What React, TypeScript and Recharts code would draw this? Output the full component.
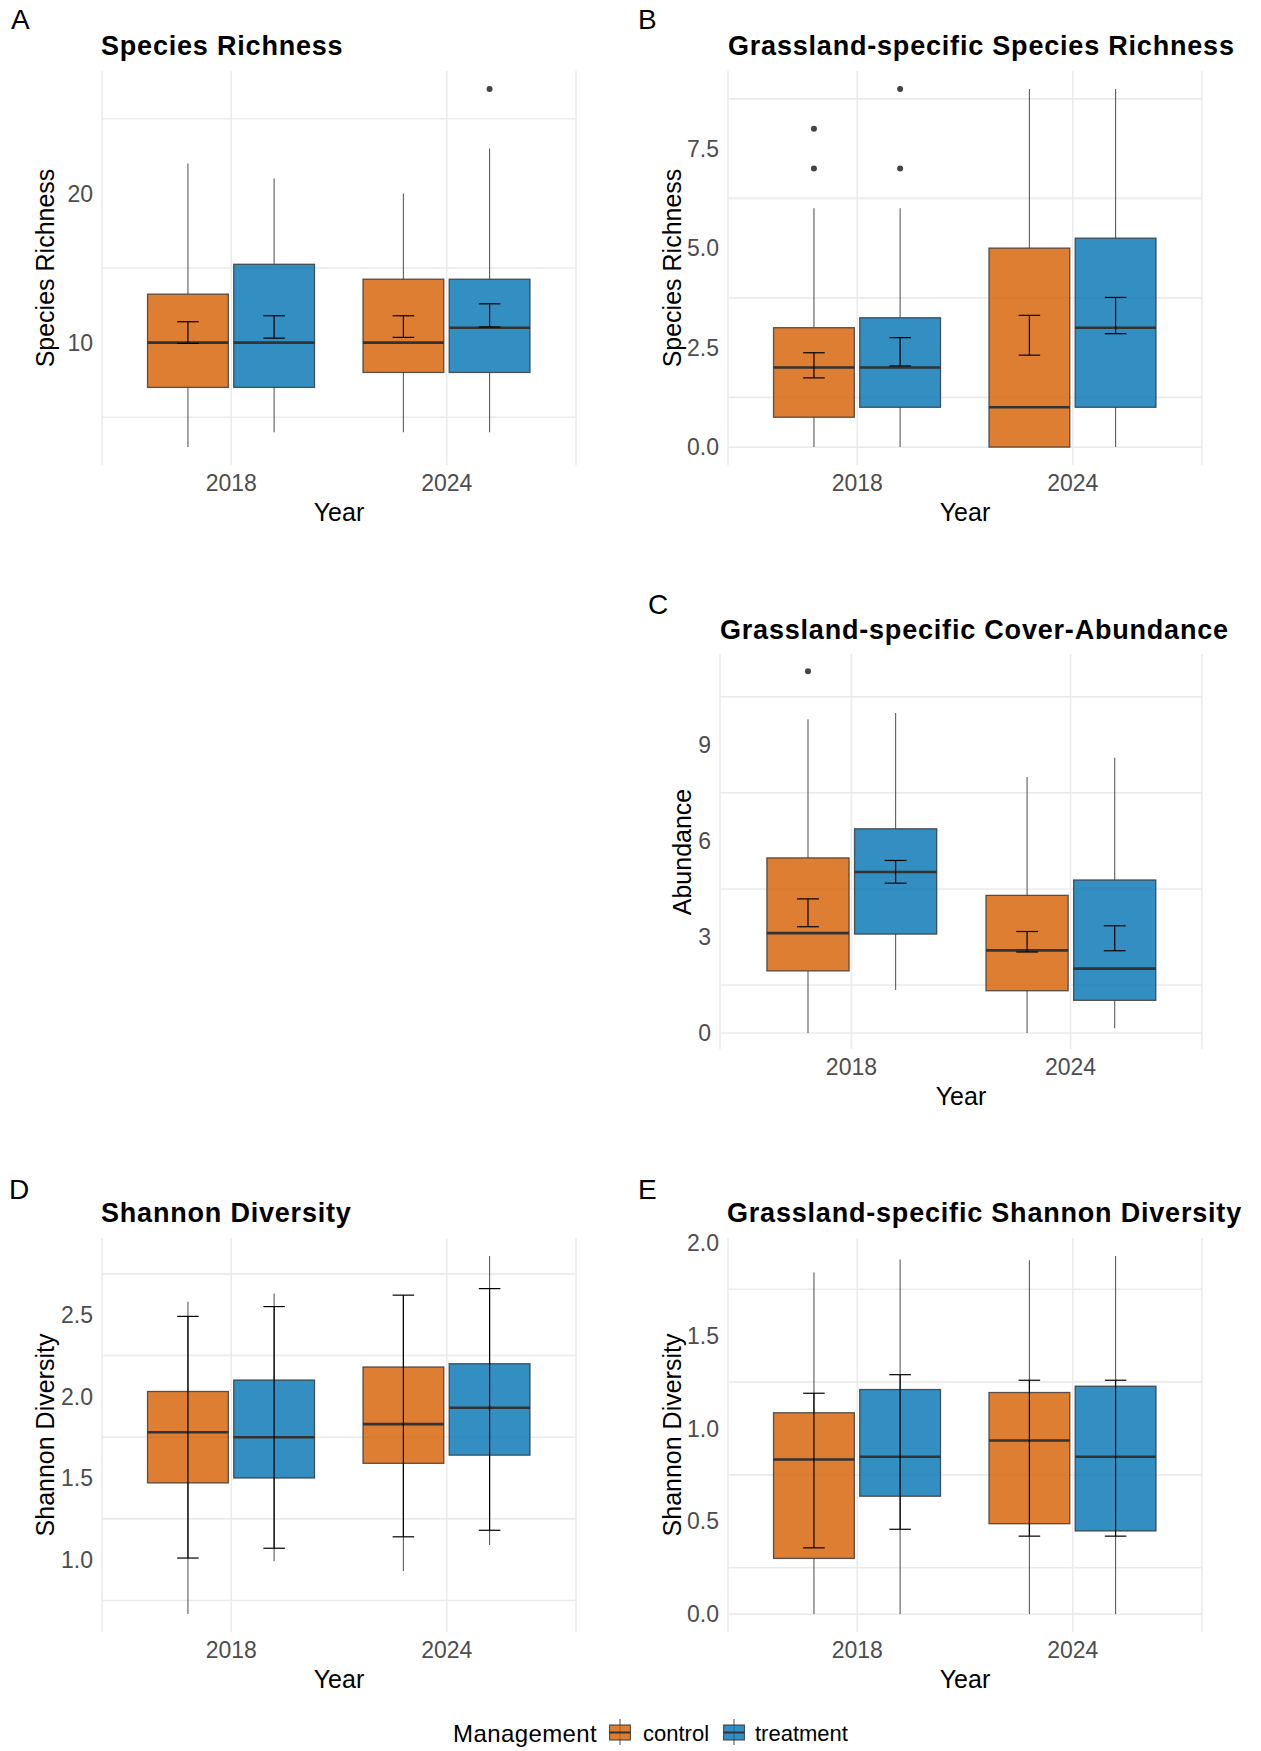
import React from 'react'
import { ComposedChart, Bar, XAxis, YAxis, CartesianGrid } from 'recharts'

const FONT = '"Liberation Sans", Arial, Helvetica, sans-serif'
const CONTROL_FILL = '#D55E00'
const TREATMENT_FILL = '#0072B2'

const YEARS = ['2018', '2024']

// box stats per year: [lower whisker, Q1, median, Q3, upper whisker]
// error bars per year: [low, high]; outliers per year

// A: Species Richness
const RICH_CONTROL_BOX = [[3, 7, 10, 13.25, 22], [4, 8, 10, 14.25, 20]]
const RICH_TREAT_BOX = [[4, 7, 10, 15.25, 21], [4, 8, 11, 14.25, 23]]
const RICH_CONTROL_ERR = [[9.95, 11.4], [10.35, 11.8]]
const RICH_TREAT_ERR = [[10.3, 11.8], [11.05, 12.6]]
const RICH_CONTROL_OUT: number[][] = [[], []]
const RICH_TREAT_OUT: number[][] = [[], [27]]
const RICH_TICKS = [10, 20]
const RICH_MINOR = [5, 15, 25]

// B: Grassland-specific Species Richness
const GRICH_CONTROL_BOX = [[0, 0.75, 2, 3, 6], [0, 0, 1, 5, 9]]
const GRICH_TREAT_BOX = [[0, 1, 2, 3.25, 6], [0, 1, 3, 5.25, 9]]
const GRICH_CONTROL_ERR = [[1.74, 2.37], [2.31, 3.31]]
const GRICH_TREAT_ERR = [[2.04, 2.75], [2.85, 3.76]]
const GRICH_CONTROL_OUT: number[][] = [[7, 8], []]
const GRICH_TREAT_OUT: number[][] = [[7, 9], []]
const GRICH_TICKS = [0, 2.5, 5, 7.5]
const GRICH_MINOR = [1.25, 3.75, 6.25, 8.75]

// C: Grassland-specific Cover-Abundance
const COVER_CONTROL_BOX = [[0, 1.94, 3.12, 5.47, 9.8], [0, 1.32, 2.58, 4.3, 8.0]]
const COVER_TREAT_BOX = [[1.34, 3.09, 5.03, 6.38, 10.0], [0.15, 1.02, 2.01, 4.78, 8.6]]
const COVER_CONTROL_ERR = [[3.32, 4.19], [2.53, 3.17]]
const COVER_TREAT_ERR = [[4.68, 5.39], [2.57, 3.35]]
const COVER_CONTROL_OUT: number[][] = [[11.3], []]
const COVER_TREAT_OUT: number[][] = [[], []]
const COVER_TICKS = [0, 3, 6, 9]
const COVER_MINOR = [1.5, 4.5, 7.5, 10.5]

// D: Shannon Diversity
const SHAN_CONTROL_BOX = [[0.667, 1.47, 1.78, 2.03, 2.58], [0.93, 1.59, 1.83, 2.18, 2.62]]
const SHAN_TREAT_BOX = [[0.99, 1.5, 1.75, 2.1, 2.63], [1.09, 1.64, 1.93, 2.2, 2.86]]
const SHAN_CONTROL_ERR = [[1.01, 2.49], [1.14, 2.62]]
const SHAN_TREAT_ERR = [[1.07, 2.55], [1.18, 2.66]]
const SHAN_CONTROL_OUT: number[][] = [[], []]
const SHAN_TREAT_OUT: number[][] = [[], []]
const SHAN_TICKS = [1.0, 1.5, 2.0, 2.5]
const SHAN_MINOR = [0.75, 1.25, 1.75, 2.25, 2.75]

// E: Grassland-specific Shannon Diversity
const GSHAN_CONTROL_BOX = [[0, 0.3, 0.833, 1.085, 1.84], [0, 0.487, 0.935, 1.194, 1.907]]
const GSHAN_TREAT_BOX = [[0, 0.635, 0.848, 1.21, 1.91], [0, 0.448, 0.848, 1.228, 1.93]]
const GSHAN_CONTROL_ERR = [[0.357, 1.19], [0.42, 1.26]]
const GSHAN_TREAT_ERR = [[0.457, 1.29], [0.42, 1.26]]
const GSHAN_CONTROL_OUT: number[][] = [[], []]
const GSHAN_TREAT_OUT: number[][] = [[], []]
const GSHAN_TICKS = [0, 0.5, 1.0, 1.5, 2.0]
const GSHAN_MINOR = [0.25, 0.75, 1.25, 1.75]

const LEGEND_TITLE = 'Management'
const GROUPS = ['control', 'treatment']

interface Stats {
  box: number[]
  err: number[]
  out: number[]
}

interface Row {
  year: string
  control: Stats
  treatment: Stats
}

function buildRows(cb: number[][], ce: number[][], co: number[][], tb: number[][], te: number[][], to: number[][]): Row[] {
  return YEARS.map((year, i) => ({
    year,
    control: { box: cb[i], err: ce[i], out: co[i] },
    treatment: { box: tb[i], err: te[i], out: to[i] },
  }))
}

function span(s: Stats): [number, number] {
  const vals = [...s.box, ...s.err, ...s.out]
  return [Math.min(...vals), Math.max(...vals)]
}

// the bar spans the whole glyph, so its rect gives the value -> pixel mapping
const boxShape = (group: 'control' | 'treatment', fill: string, capHalf: number) => (props: any) => {
  const { x, y, width, height, payload } = props
  const s: Stats = payload[group]
  const [lo, hi] = span(s)
  const py = (v: number) => y + ((hi - v) / (hi - lo)) * height
  const cx = x + width / 2
  const [wLo, q1, med, q3, wHi] = s.box
  const line = '#333333'
  return (
    <g>
      <line x1={cx} x2={cx} y1={py(q3)} y2={py(wHi)} stroke={line} strokeOpacity={0.8} strokeWidth={1.1} />
      <line x1={cx} x2={cx} y1={py(q1)} y2={py(wLo)} stroke={line} strokeOpacity={0.8} strokeWidth={1.1} />
      <rect x={x} y={py(q3)} width={width} height={py(q1) - py(q3)} fill={fill} fillOpacity={0.8} stroke={line} strokeOpacity={0.8} strokeWidth={1.3} />
      <line x1={x} x2={x + width} y1={py(med)} y2={py(med)} stroke={line} strokeWidth={2.6} />
      {s.out.map((o, i) => (
        <circle key={i} cx={cx} cy={py(o)} r={3} fill="#444444" />
      ))}
      <line x1={cx} x2={cx} y1={py(s.err[0])} y2={py(s.err[1])} stroke="#000" strokeWidth={1.2} />
      <line x1={cx - capHalf} x2={cx + capHalf} y1={py(s.err[0])} y2={py(s.err[0])} stroke="#000" strokeWidth={1.2} />
      <line x1={cx - capHalf} x2={cx + capHalf} y1={py(s.err[1])} y2={py(s.err[1])} stroke="#000" strokeWidth={1.2} />
    </g>
  )
}

interface Panel {
  letter: string
  title: string
  yLabel: string
  rows: Row[]
  ticks: number[]
  minor: number[]
  digits: number
  domain: [number, number]
  left: number
  top: number
  w: number
  h: number
  letterX: number
  letterY: number
  titleX: number
  titleY: number
  yTitleX: number
}

const PANELS: Panel[] = [
  {
    letter: 'A', title: 'Species Richness', yLabel: 'Species Richness',
    rows: buildRows(RICH_CONTROL_BOX, RICH_CONTROL_ERR, RICH_CONTROL_OUT, RICH_TREAT_BOX, RICH_TREAT_ERR, RICH_TREAT_OUT),
    ticks: RICH_TICKS, minor: RICH_MINOR, digits: 0, domain: [1.8, 28.2],
    left: 102, top: 71, w: 474, h: 394, letterX: 11, letterY: 10, titleX: 101, titleY: 37, yTitleX: 45,
  },
  {
    letter: 'B', title: 'Grassland-specific Species Richness', yLabel: 'Species Richness',
    rows: buildRows(GRICH_CONTROL_BOX, GRICH_CONTROL_ERR, GRICH_CONTROL_OUT, GRICH_TREAT_BOX, GRICH_TREAT_ERR, GRICH_TREAT_OUT),
    ticks: GRICH_TICKS, minor: GRICH_MINOR, digits: 1, domain: [-0.45, 9.45],
    left: 728, top: 71, w: 474, h: 394, letterX: 638, letterY: 10, titleX: 728, titleY: 37, yTitleX: 672,
  },
  {
    letter: 'C', title: 'Grassland-specific Cover-Abundance', yLabel: 'Abundance',
    rows: buildRows(COVER_CONTROL_BOX, COVER_CONTROL_ERR, COVER_CONTROL_OUT, COVER_TREAT_BOX, COVER_TREAT_ERR, COVER_TREAT_OUT),
    ticks: COVER_TICKS, minor: COVER_MINOR, digits: 0, domain: [-0.5, 11.84],
    left: 720, top: 654, w: 482, h: 395, letterX: 648, letterY: 595, titleX: 720, titleY: 621, yTitleX: 682,
  },
  {
    letter: 'D', title: 'Shannon Diversity', yLabel: 'Shannon Diversity',
    rows: buildRows(SHAN_CONTROL_BOX, SHAN_CONTROL_ERR, SHAN_CONTROL_OUT, SHAN_TREAT_BOX, SHAN_TREAT_ERR, SHAN_TREAT_OUT),
    ticks: SHAN_TICKS, minor: SHAN_MINOR, digits: 1, domain: [0.557, 2.97],
    left: 102, top: 1238, w: 474, h: 394, letterX: 9, letterY: 1180, titleX: 101, titleY: 1204, yTitleX: 45,
  },
  {
    letter: 'E', title: 'Grassland-specific Shannon Diversity', yLabel: 'Shannon Diversity',
    rows: buildRows(GSHAN_CONTROL_BOX, GSHAN_CONTROL_ERR, GSHAN_CONTROL_OUT, GSHAN_TREAT_BOX, GSHAN_TREAT_ERR, GSHAN_TREAT_OUT),
    ticks: GSHAN_TICKS, minor: GSHAN_MINOR, digits: 1, domain: [-0.0965, 2.0265],
    left: 728, top: 1238, w: 474, h: 394, letterX: 638, letterY: 1180, titleX: 727, titleY: 1204, yTitleX: 672,
  },
]

// place text by its cap top
function Txt({ x, capTop, size, bold, spacing, children }: any) {
  return (
    <div
      style={{
        position: 'absolute', left: x, top: capTop - 0.13 * size, fontSize: size, lineHeight: 1,
        fontWeight: bold ? 700 : 400, color: '#000', whiteSpace: 'nowrap', letterSpacing: spacing || 0,
      }}
    >
      {children}
    </div>
  )
}

function BoxPanel({ p }: { p: Panel }) {
  const band = p.w / 2.2
  const pad = band * 0.1
  const tickStyle = { fontSize: 23, fill: '#4D4D4D', fontFamily: FONT }
  return (
    <>
      <Txt x={p.letterX} capTop={p.letterY} size={28}>{p.letter}</Txt>
      <Txt x={p.titleX} capTop={p.titleY} size={27} bold spacing={0.8}>{p.title}</Txt>
      <div
        style={{
          position: 'absolute', left: p.yTitleX, top: p.top + p.h / 2, fontSize: 25, lineHeight: 1,
          transform: 'translate(-50%, -50%) rotate(-90deg)', whiteSpace: 'nowrap',
        }}
      >
        {p.yLabel}
      </div>
      <div
        style={{
          position: 'absolute', left: p.left + p.w / 2, top: p.top + p.h + 38 - 0.13 * 25, fontSize: 25,
          lineHeight: 1, transform: 'translateX(-50%)', whiteSpace: 'nowrap',
        }}
      >
        Year
      </div>
      <div style={{ position: 'absolute', left: p.left - 90, top: p.top - 10 }}>
        <ComposedChart
          width={p.w + 100}
          height={p.h + 80}
          data={p.rows}
          margin={{ top: 10, right: 10, bottom: 0, left: 0 }}
          barSize={band * 0.375}
          barGap={band * 0.025}
        >
          <CartesianGrid stroke="#EBEBEB" strokeWidth={1.6} horizontalValues={[...p.ticks, ...p.minor]} />
          <XAxis
            dataKey="year"
            padding={{ left: pad, right: pad }}
            height={70}
            tickLine={false}
            tickSize={0}
            axisLine={false}
            tickMargin={10}
            interval={0}
            tick={tickStyle}
          />
          <YAxis
            type="number"
            domain={p.domain}
            ticks={p.ticks}
            allowDataOverflow
            width={90}
            tickLine={false}
            tickSize={0}
            axisLine={false}
            tickMargin={9}
            tickFormatter={(v: number) => v.toFixed(p.digits)}
            tick={tickStyle}
          />
          <Bar dataKey={(r: Row) => span(r.control)} shape={boxShape('control', CONTROL_FILL, band * 0.05)} isAnimationActive={false} />
          <Bar dataKey={(r: Row) => span(r.treatment)} shape={boxShape('treatment', TREATMENT_FILL, band * 0.05)} isAnimationActive={false} />
        </ComposedChart>
      </div>
    </>
  )
}

function LegendKey({ x, fill }: { x: number; fill: string }) {
  return (
    <svg style={{ position: 'absolute', left: x, top: 1719 }} width={22} height={26}>
      <line x1={11} x2={11} y1={0} y2={26} stroke="#333" strokeOpacity={0.8} strokeWidth={1.1} />
      <rect x={0.5} y={6} width={21} height={15} fill={fill} fillOpacity={0.8} stroke="#333" strokeOpacity={0.8} strokeWidth={1.2} />
      <line x1={0.5} x2={21.5} y1={13.5} y2={13.5} stroke="#333" strokeWidth={2} />
    </svg>
  )
}

export default function App() {
  return (
    <div
      style={{
        position: 'absolute', left: 0, top: 0, width: 1261, height: 1751, background: '#fff',
        fontFamily: FONT, overflow: 'hidden',
      }}
    >
      {PANELS.map((p) => (
        <BoxPanel key={p.letter} p={p} />
      ))}
      <Txt x={453} capTop={1725} size={24} spacing={0.4}>{LEGEND_TITLE}</Txt>
      <LegendKey x={609} fill={CONTROL_FILL} />
      <Txt x={643} capTop={1726} size={22}>{GROUPS[0]}</Txt>
      <LegendKey x={723} fill={TREATMENT_FILL} />
      <Txt x={755} capTop={1726} size={22}>{GROUPS[1]}</Txt>
    </div>
  )
}
